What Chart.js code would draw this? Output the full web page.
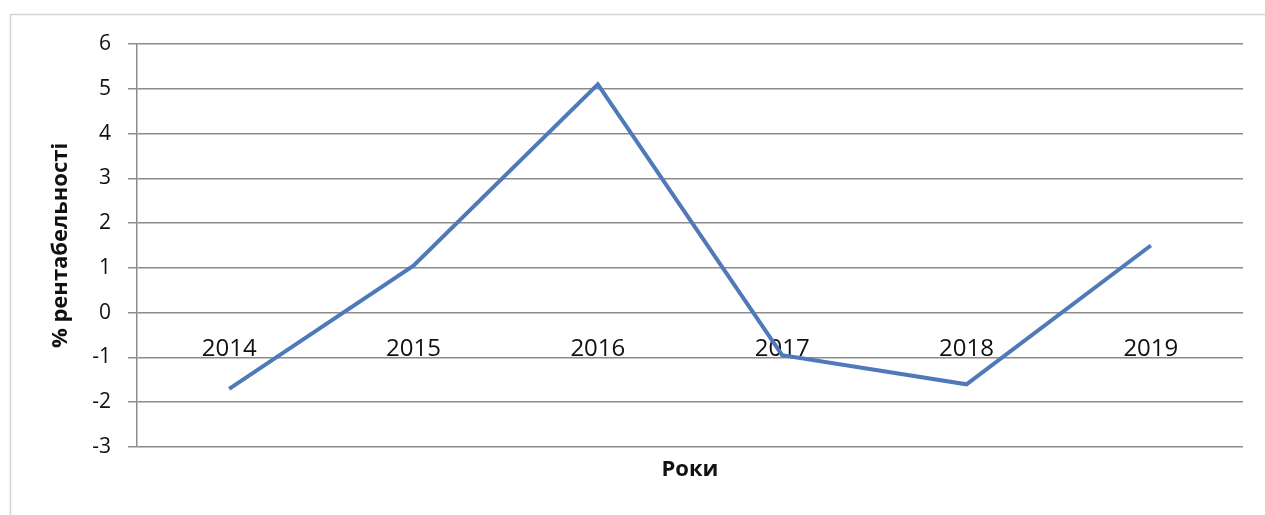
<!DOCTYPE html>
<html>
<head>
<meta charset="utf-8">
<script src="https://cdn.jsdelivr.net/npm/chart.js@4"></script>
<style>
  html, body { margin:0; padding:0; background:#fff; }
  #wrap { width:1265px; height:515px; position:relative; }
</style>
</head>
<body>
<div id="wrap"><canvas id="chart" width="1265" height="515"></canvas></div>
<script>
// data
const years = ["2014", "2015", "2016", "2017", "2018", "2019"];
const profitability = [-1.7, 1.05, 5.1, -0.95, -1.6, 1.5];
const yMin = -3, yMax = 6;
const yTitle = "% рентабельності";
const xTitle = "Роки";

const FONT = "'Open Sans', 'Liberation Sans', sans-serif";
const GRID = "#8c8c8c";

// outer frame + x axis title
const framePlugin = {
  id: "frame",
  beforeDraw(chart){
    const c = chart.ctx;
    c.save();
    c.strokeStyle = "#d4d4d4";
    c.lineWidth = 1.5;
    c.strokeRect(10.5, 14.5, 1300, 600);
    c.restore();
  },
  afterDraw(chart){
    const a = chart.chartArea;
    const c = chart.ctx;
    c.save();
    c.fillStyle = "#111";
    c.font = "bold 22px " + FONT;
    c.textAlign = "center";
    c.textBaseline = "middle";
    c.fillText(xTitle, (a.left + a.right) / 2, 470);
    c.restore();
  }
};

new Chart(document.getElementById("chart").getContext("2d"), {
  type: "line",
  data: {
    labels: years,
    datasets: [{
      data: profitability,
      borderColor: "#4f79b8",
      borderWidth: 4,
      pointRadius: 0,
      tension: 0,
      fill: false
    }]
  },
  options: {
    responsive: false,
    animation: false,
    layout: { padding: { left: 46, top: 44, right: 22, bottom: 68 } },
    plugins: { legend: { display: false }, tooltip: { enabled: false } },
    scales: {
      x: {
        position: { y: 0 },
        offset: true,
        grid: { display: false, drawTicks: false },
        border: { display: false },
        ticks: { color: "#111", font: { family: FONT, size: 24 }, padding: 22, maxRotation: 0 }
      },
      y: {
        min: yMin,
        max: yMax,
        ticks: { stepSize: 1, color: "#111", font: { family: FONT, size: 21 }, padding: 17 },
        grid: { color: GRID, lineWidth: 1.5, tickLength: 9 },
        border: { display: true, color: GRID, width: 1.5 },
        title: { display: true, text: yTitle, color: "#111", padding: { top: 2, bottom: 2 }, font: { family: FONT, size: 22, weight: "bold" } },
        afterFit(scale){ scale.width = 91; }
      }
    }
  },
  plugins: [framePlugin]
});
</script>
</body>
</html>
